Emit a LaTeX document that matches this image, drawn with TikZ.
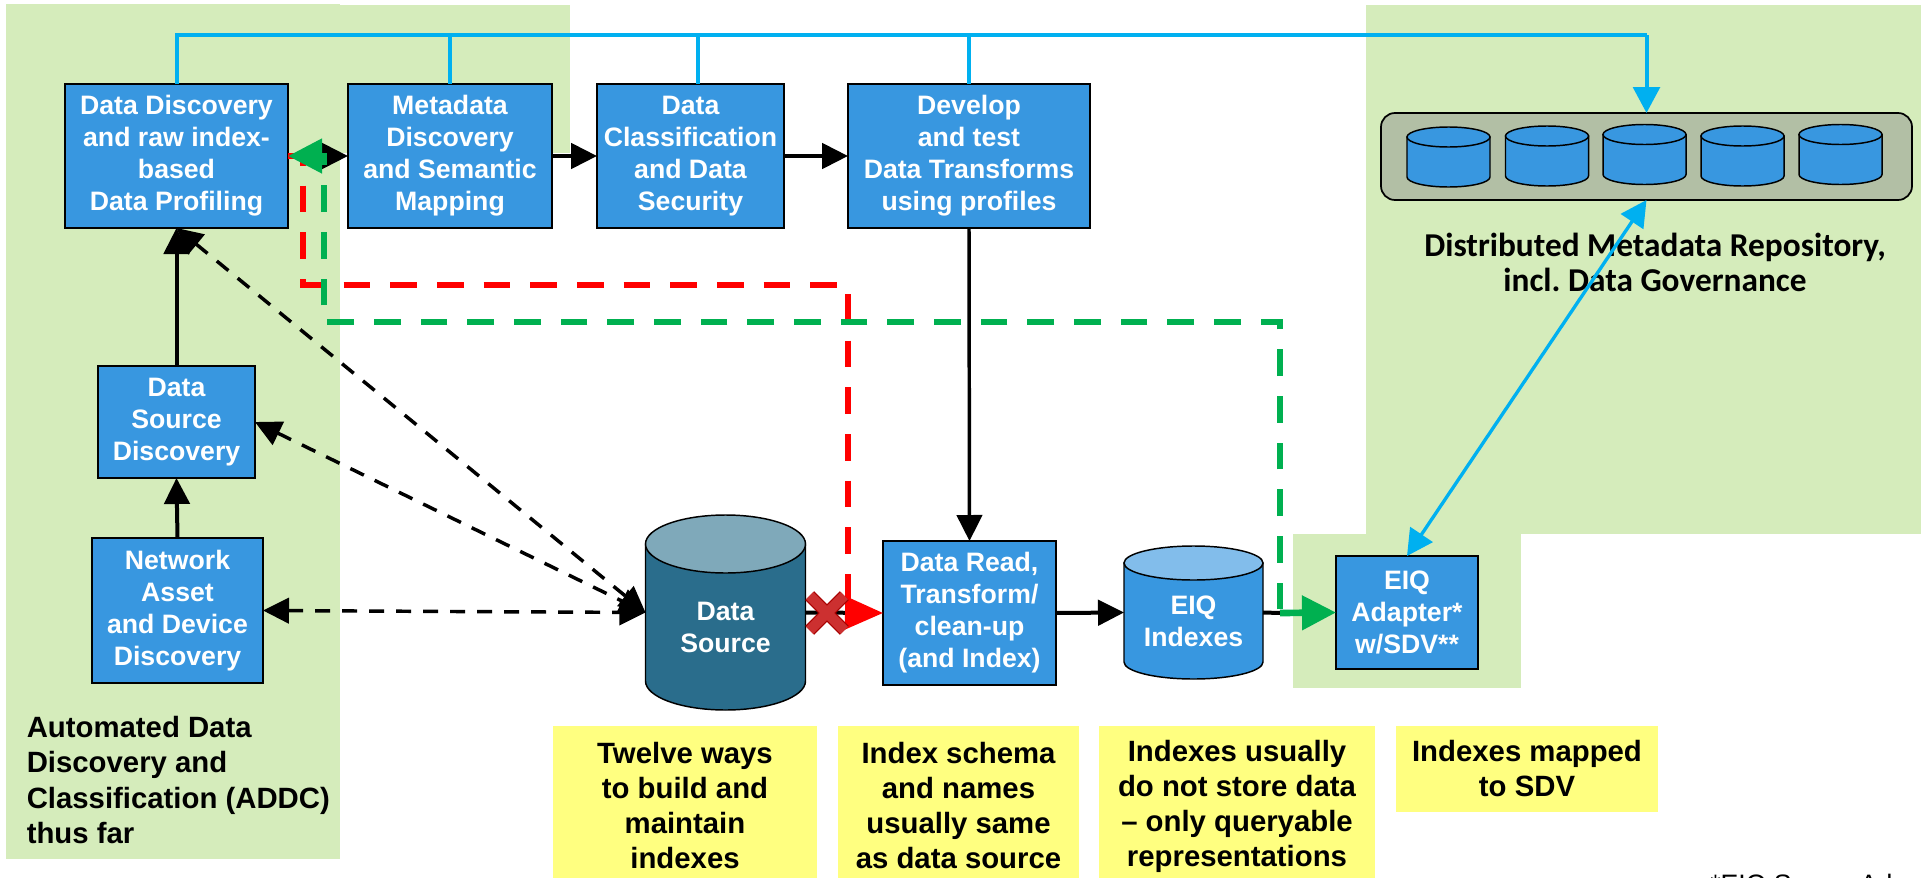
\documentclass[tikz,border=0pt]{standalone}
\usepackage{xcolor}
\usepackage{fontspec}
\setmainfont{Liberation Sans}
\newfontfamily\repofont{Carlito}
\usetikzlibrary{arrows.meta,shapes.misc}

\definecolor{panelgreen}{HTML}{D5ECBB}
\definecolor{notefill}{HTML}{FFFF80}
\definecolor{boxblue}{HTML}{3897E0}
\definecolor{srcbody}{HTML}{2A6D8C}
\definecolor{srctop}{HTML}{7FA9BA}
\definecolor{idxtop}{HTML}{82BDEB}
\definecolor{repofill}{HTML}{B2BFA5}
\definecolor{buscyan}{HTML}{00B0F0}
\definecolor{okgreen}{HTML}{00B050}
\definecolor{xdark}{HTML}{A80000}
\definecolor{xlight}{HTML}{CC3030}

% name, x, y, width, height, end radius, body colour, end colour, text
\newcommand{\storecan}[9]{
    \draw[fill=#7, line width=1.1pt] ({#2-#4/2},{#3-#5/2+#6}) -- ({#2-#4/2},{#3+#5/2-#6}) arc[start angle=180, end angle=0, x radius=#4/2, y radius=#6] -- ({#2+#4/2},{#3-#5/2+#6}) -- cycle;
    \draw[fill=#8, line width=1.1pt] (#2,{#3-#5/2+#6}) ellipse[x radius=#4/2, y radius=#6];
    \node[wh={#4}{#5}, inner sep=0pt, outer sep=0pt] (#1) at (#2,#3) {};
    \node[storelabel, yshift=-#6*0.375pt] (#1label) at (#1) {#9};
}

\begin{document}
\begin{tikzpicture}[x=0.75pt, y=-0.75pt,
    wh/.style n args={2}{minimum width=#1*0.75pt, minimum height=#2*0.75pt},
    panel/.style={fill=panelgreen, inner sep=0pt, outer sep=0pt},
    stepbox/.style={draw, fill=boxblue, line width=1.5pt, inner sep=0pt, outer sep=0pt, align=center, text=white, font=\fontsize{20}{24}\selectfont\bfseries},
    storelabel/.style={inner sep=0pt, align=center, text=white, font=\fontsize{20}{24}\selectfont\bfseries},
    note/.style={fill=notefill, inner sep=0pt, outer sep=0pt, align=center, font=\fontsize{22}{26.25}\selectfont\bfseries},
    flow/.style={line width=3pt, -{Triangle[length=19.5pt, width=19pt]}},
    probe/.style={line width=2.6pt, dash pattern=on 11.25pt off 9pt, {Triangle[length=19.5pt, width=19pt]}-{Triangle[length=19.5pt, width=19pt]}},
    bus/.style={line width=3pt, draw=buscyan},
    busarrow/.style={line width=2.5pt, draw=buscyan, {Triangle[length=19.5pt, width=20pt, color=buscyan]}-{Triangle[length=19.5pt, width=20pt, color=buscyan]}}
]
    \useasboundingbox (0,0) rectangle (1921,878);

    % Green panels
    \node[panel, wh={334}{855}] (addcpanel) at (173,431.5) {};
    \node[panel, wh={230}{148}] (metapanel) at (455,79) {};
    \node[panel, wh={555}{529}] (repopanel) at (1643.5,269.5) {};
    \node[panel, wh={228}{154}] (adapterpanel) at (1407,611) {};

    % Upper row of boxes
    \node[stepbox, wh={223}{144}] (datadisc) at (176.5,156) {Data Discovery\\and raw index-\\based\\Data Profiling};
    \node[stepbox, wh={204}{144}] (metadisc) at (450,156) {Metadata\\Discovery\\and Semantic\\Mapping};
    \node[stepbox, wh={187}{144}] (classify) at (690.5,156) {Data\\Classification\\and Data\\Security};
    \node[stepbox, wh={242}{144}] (develop) at (969,156) {Develop\\and test\\Data Transforms\\using profiles};

    % Left column
    \node[stepbox, wh={157}{112}] (srcdisc) at (176.5,422) {Data\\Source\\Discovery};
    \node[stepbox, wh={171}{145}] (netasset) at (177.5,610.5) {Network\\Asset\\and Device\\Discovery};
    \node[anchor=west, align=left, inner sep=0pt, font=\fontsize{22}{26.5}\selectfont\bfseries] (addclabel) at (26.5,780) {Automated Data\\Discovery and\\Classification (ADDC)\\thus far};

    % Lower row
    \storecan{datasrc}{725.5}{612.5}{160}{195}{29}{srcbody}{srctop}{Data\\Source}
    \node[stepbox, wh={173}{144}] (dataread) at (969.5,613) {Data Read,\\Transform/\\clean-up\\(and Index)};
    \storecan{eiqidx}{1193.5}{612.5}{139}{133}{17}{boxblue}{idxtop}{EIQ\\Indexes}
    \node[stepbox, wh={142}{113}] (adapter) at (1407,612.5) {EIQ\\Adapter*\\w/SDV**};

    % Repository
    \node[draw, fill=repofill, rounded corners=10.5pt, line width=1.3pt, inner sep=0pt, outer sep=0pt, wh={531}{87}] (repo) at (1646.5,156.5) {};
    \storecan{dbone}{1448.5}{157}{83}{60}{10}{boxblue}{boxblue}{}
    \storecan{dbtwo}{1547}{156}{83}{60}{10}{boxblue}{boxblue}{}
    \storecan{dbthree}{1644.5}{154.5}{83}{60}{10}{boxblue}{boxblue}{}
    \storecan{dbfour}{1742.5}{156}{83}{60}{10}{boxblue}{boxblue}{}
    \storecan{dbfive}{1840.5}{154.5}{83}{60}{10}{boxblue}{boxblue}{}
    \node[align=center, inner sep=0pt, font=\repofont\fontsize{25}{26.25}\selectfont\bfseries] (repolabel) at (1655,262) {Distributed Metadata Repository,\\incl.\ Data Governance};

    % Yellow notes
    \node[note, wh={264}{160}] (noteways) at (685,806) {Twelve ways\\to build and\\maintain\\indexes};
    \node[note, wh={241}{160}] (noteschema) at (958.5,806) {Index schema\\and names\\usually same\\as data source};
    \node[note, wh={276}{160}] (notestore) at (1237,806) {Indexes usually\\do not store data\\-- only queryable\\representations};
    \node[note, wh={262}{86}] (notesdv) at (1527,769) {Indexes mapped\\to SDV};
    \node[anchor=north west, inner sep=0pt, font=\fontsize{20}{24}\selectfont] (footnote) at (1710,874) {*EIQ Server Adapter};

    % Bend points
    \coordinate (busend) at (repo.north |- 0,35);
    \coordinate (redleft) at (303,285);
    \coordinate (redright) at (848,285);
    \coordinate (redend) at (848,600);
    \coordinate (greenbend) at (1280,613);
    \coordinate (greenleft) at (324,322);

    % Solid edges
    \draw[flow] (netasset.north) -- (srcdisc.south);
    \draw[flow] (srcdisc.north) -- (datadisc.south);
    \draw[flow] (datadisc.east) -- (metadisc.west);
    \draw[flow] (metadisc.east) -- (classify.west);
    \draw[flow] (classify.east) -- (develop.west);
    \draw[flow, line width=2.6pt] (develop.south) -- (dataread.north);
    \draw[flow] (dataread.east) -- (eiqidx.west);
    \draw[line width=3pt] (eiqidx.east) -- (greenbend);

    % Dashed edges to the source
    \draw[probe] (netasset.east) -- (datasrc.west);
    \draw[probe] (srcdisc.east) -- (datasrc.west);
    \draw[probe] (datadisc.south) -- (datasrc.west);

    % Red and green reruns
    \draw[red, line width=5pt, dash pattern=on 20pt off 15pt, dash phase=1.5pt] (datadisc.east) -| (redleft) -- (redright) -- (redend);
    \draw[line width=3pt, -{Triangle[length=28.5pt, width=24.5pt, color=red]}] (datasrc.east) -- (dataread.west);
    \draw[okgreen, line width=5pt, dash pattern=on 20pt off 15pt, dash phase=32.25pt, -{Triangle[length=25.5pt, width=25pt]}] (greenbend) |- (greenleft) |- (datadisc.east);
    \draw[okgreen, line width=5pt, -{Triangle[length=25.5pt, width=25pt]}] (greenbend) -- (adapter.west);
    \node[cross out, draw=xdark, double=xlight, double distance=7.5pt, line width=1pt, inner sep=0pt, minimum size=25pt] (stopmark) at (827,613) {};

    % Cyan metadata lines
    \draw[bus] (datadisc.north) |- (busend);
    \draw[bus] (metadisc.north) -- (metadisc.north |- busend);
    \draw[bus] ([xshift=5.6pt]classify.north) -- ([xshift=5.6pt]classify.north |- busend);
    \draw[bus] (develop.north) -- (develop.north |- busend);
    \draw[bus, -{Triangle[length=19.5pt, width=20pt, color=buscyan]}] (busend) -- (repo.north);
    \draw[busarrow] (adapter.north) -- (repo.south);
\end{tikzpicture}
\end{document}
